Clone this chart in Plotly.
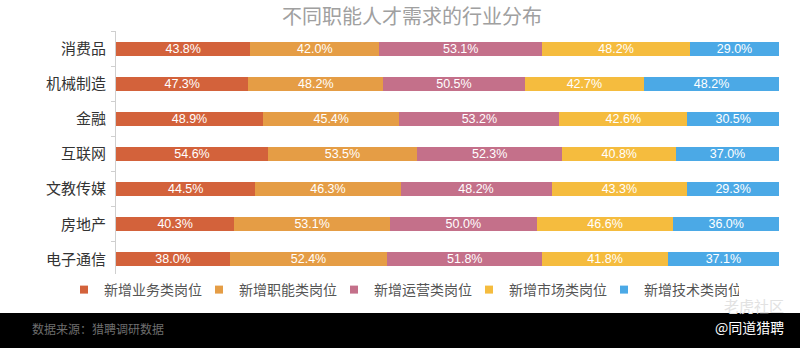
import plotly.graph_objects as go

categories = ["消费品", "机械制造", "金融", "互联网", "文教传媒", "房地产", "电子通信"]
series_names = ["新增业务类岗位", "新增职能类岗位", "新增运营类岗位", "新增市场类岗位", "新增技术类岗位"]
business = [43.8, 47.3, 48.9, 54.6, 44.5, 40.3, 38.0]
function = [42.0, 48.2, 45.4, 53.5, 46.3, 53.1, 52.4]
operation = [53.1, 50.5, 53.2, 52.3, 48.2, 50.0, 51.8]
marketing = [48.2, 42.7, 42.6, 40.8, 43.3, 46.6, 41.8]
technology = [29.0, 48.2, 30.5, 37.0, 29.3, 36.0, 37.1]
colors = ["#D3623B", "#E59D45", "#C4708A", "#F5BC3E", "#4BA9E6"]

series_values = [business, function, operation, marketing, technology]

num_font = "Helvetica, Liberation Sans, Arial, Noto Sans CJK SC, sans-serif"
cjk_font = "Noto Sans CJK SC, sans-serif"

fig = go.Figure()
for name, vals, col in zip(series_names, series_values, colors):
    fig.add_trace(go.Bar(
        y=categories, x=vals, name=name, orientation="h",
        marker=dict(color=col, line=dict(width=0)),
        text=[f"{v:.1f}%" for v in vals],
        textposition="inside", insidetextanchor="middle",
        constraintext="none", showlegend=False, legendgroup=name,
        textfont=dict(color="white", size=12.5, family=num_font),
    ))
# legend entries with small square markers
for name, col in zip(series_names, colors):
    fig.add_trace(go.Scatter(
        x=[None], y=[None], mode="markers", name=name, legendgroup=name,
        marker=dict(symbol="square", size=8, color=col),
        showlegend=True, hoverinfo="skip",
    ))

fig.update_layout(
    width=800, height=348,
    margin=dict(l=116, r=21, t=31, b=71, autoexpand=False),
    paper_bgcolor="white", plot_bgcolor="white",
    barmode="stack", barnorm="percent", bargap=0.6,
    showlegend=True,
    legend=dict(orientation="h", xref="paper", x=(64 - 116) / 663, xanchor="left",
                y=(277 - 290) / 246, yanchor="middle",
                font=dict(size=14, color="#555", family=cjk_font),
                itemwidth=30, traceorder="normal",
                entrywidth=90, entrywidthmode="pixels", itemclick=False),
    title=dict(text="不同职能人才需求的行业分布", x=0.515, xanchor="center",
               y=0.95, yanchor="middle",
               font=dict(size=20, color="#A0A0A0", family=cjk_font)),
    xaxis=dict(range=[0, 100], visible=False),
    yaxis=dict(autorange="reversed", showline=True, linecolor="#CFCFCF", linewidth=1,
               ticks="outside", ticklen=4, tickcolor="#CFCFCF", tickson="boundaries",
               ticklabelstandoff=6,
               tickfont=dict(size=15, color="#333", family=cjk_font), showgrid=False),
)

# footer band
fig.add_shape(type="rect", xref="paper", yref="paper", x0=-0.2, x1=1.1,
              y0=(277 - 348) / 246 - 0.01, y1=(277 - 313) / 246,
              fillcolor="black", line=dict(width=0), layer="above")
fig.add_annotation(text="数据来源：猎聘调研数据", xref="paper", yref="paper",
                   x=(30 - 116) / 663, y=(277 - 328) / 246, xanchor="left", yanchor="middle",
                   showarrow=False, font=dict(size=12, color="#6E6E6E", family=cjk_font))
fig.add_annotation(text="@同道猎聘", xref="paper", yref="paper",
                   x=(786 - 116) / 663, y=(277 - 327) / 246, xanchor="right", yanchor="middle",
                   showarrow=False, font=dict(size=14, color="white", family=cjk_font))
fig.add_annotation(text="老虎社区", xref="paper", yref="paper",
                   x=(786 - 116) / 663, y=(277 - 305) / 246, xanchor="right", yanchor="middle",
                   showarrow=False, font=dict(size=15, color="#E2E2E2", family=cjk_font))

fig.write_html("out.html")
